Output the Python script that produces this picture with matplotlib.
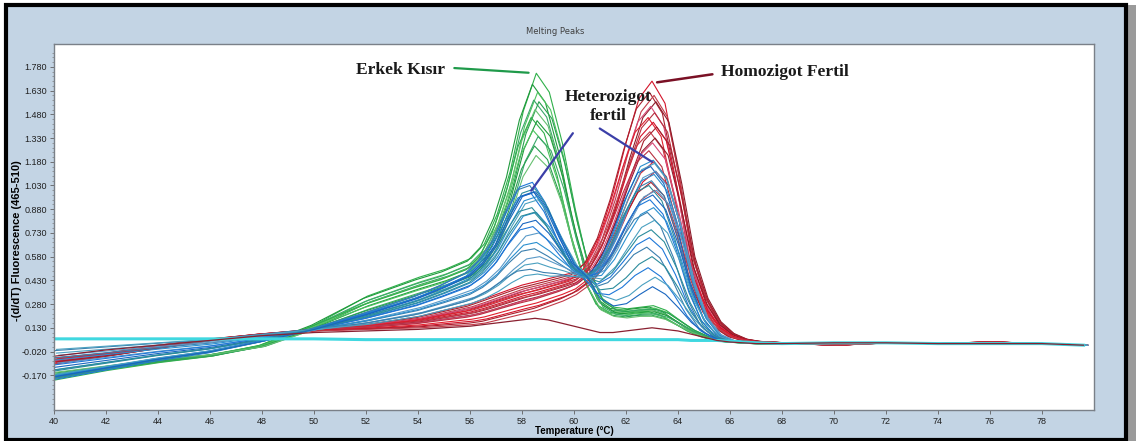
import numpy as np
import matplotlib
matplotlib.use("Agg")
import matplotlib.pyplot as plt
from matplotlib.patches import Rectangle

# ---- data ----
temps = np.array([40, 42, 44, 46, 48, 50, 52, 54, 55, 56, 56.5, 57, 57.5, 58, 58.5, 59, 59.5,
                  60, 60.5, 61, 61.5, 62, 62.5, 63, 63.5, 64, 64.5, 65, 65.5, 66, 66.5, 67,
                  68, 70, 72, 74, 76, 78, 79.6])
tail = [0.03, 0.035, 0.035, 0.03, 0.03, 0.03, 0.02]

# Erkek Kisir (green): tallest and shortest curve
green_hi = np.array([-0.20, -0.14, -0.09, -0.05, 0.02, 0.15, 0.33, 0.45, 0.50, 0.57, 0.66, 0.85, 1.12,
                     1.50, 1.74, 1.62, 1.30, 0.88, 0.52, 0.32, 0.26, 0.25, 0.26, 0.27, 0.24, 0.18,
                     0.12, 0.08, 0.05, 0.04, 0.035, 0.03] + tail)
green_lo = np.array([-0.15, -0.11, -0.07, -0.04, 0.01, 0.12, 0.22, 0.32, 0.37, 0.43, 0.50, 0.62, 0.82,
                     1.07, 1.20, 1.12, 0.90, 0.60, 0.38, 0.24, 0.20, 0.19, 0.20, 0.20, 0.18, 0.14,
                     0.10, 0.07, 0.05, 0.04, 0.035, 0.03] + tail)
green_peaks = [1.74, 1.67, 1.62, 1.57, 1.56, 1.51, 1.46, 1.44, 1.38, 1.34, 1.28, 1.22]
green_shift = [0.05, -0.10, 0.10, -0.05, 0.15, 0.00, -0.15, 0.08, -0.08, 0.12, -0.02, 0.04]

# Homozigot Fertil (red)
red_hi = np.array([-0.10, -0.05, 0.00, 0.05, 0.09, 0.12, 0.15, 0.20, 0.24, 0.28, 0.31, 0.34, 0.37,
                   0.40, 0.42, 0.44, 0.46, 0.48, 0.55, 0.72, 0.98, 1.30, 1.58, 1.69, 1.55, 1.12,
                   0.62, 0.34, 0.18, 0.10, 0.06, 0.045, 0.035, 0.02, 0.035, 0.03, 0.04, 0.03, 0.02])
red_lo = np.array([-0.06, -0.03, 0.02, 0.06, 0.09, 0.11, 0.12, 0.13, 0.14, 0.15, 0.16, 0.18, 0.20,
                   0.22, 0.24, 0.27, 0.30, 0.34, 0.40, 0.50, 0.64, 0.80, 0.94, 1.00, 0.92, 0.68,
                   0.40, 0.22, 0.12, 0.07, 0.05, 0.04, 0.035, 0.02, 0.035, 0.03, 0.04, 0.03, 0.02])
red_peaks = [1.69, 1.62, 1.60, 1.56, 1.53, 1.49, 1.46, 1.43, 1.40, 1.37, 1.33, 1.30, 1.25,
             1.18, 1.12, 1.05, 1.00]
red_shift = [0.00, -0.10, 0.08, 0.15, -0.05, 0.10, -0.15, 0.05, 0.18, -0.08, 0.12, 0.02,
             -0.12, 0.06, 0.14, -0.04, 0.09]

# Heterozigot fertil (blue): two peaks
blue_hi = np.array([-0.20, -0.14, -0.08, -0.03, 0.04, 0.12, 0.22, 0.33, 0.40, 0.48, 0.56, 0.68, 0.86,
                    1.02, 1.05, 0.92, 0.72, 0.54, 0.45, 0.55, 0.74, 0.97, 1.15, 1.19, 1.08, 0.80,
                    0.44, 0.20, 0.09, 0.05, 0.04, 0.035] + tail)
blue_lo = np.array([0.00, 0.02, 0.04, 0.06, 0.09, 0.12, 0.15, 0.20, 0.24, 0.28, 0.31, 0.35, 0.40,
                    0.44, 0.45, 0.44, 0.45, 0.45, 0.45, 0.32, 0.28, 0.30, 0.36, 0.41, 0.36, 0.27,
                    0.17, 0.10, 0.06, 0.045, 0.04, 0.035] + tail)
blue_left_peaks = [1.05, 0.86, 1.03, 0.54, 1.01, 0.99, 0.73, 0.98, 0.96, 0.63, 0.94, 0.89,
                   0.81, 0.58, 0.77, 0.67, 0.50, 0.47, 0.86, 0.99]
blue_right_peaks = [0.70, 1.19, 0.64, 1.17, 0.58, 1.15, 1.12, 0.51, 1.10, 1.06, 0.45, 1.03,
                    0.97, 1.00, 0.94, 0.89, 0.86, 0.81, 0.75, 0.39]
blue_shift = [-0.10, 0.05, -0.20, 0.10, 0.00, -0.05, 0.15, -0.15, 0.08, -0.02, 0.12, -0.12,
              0.03, 0.18, -0.08, 0.06, -0.18, 0.10, -0.03, 0.02]

# low dark-red curves and flat cyan (negative controls)
low_curve = np.array([-0.05, -0.01, 0.02, 0.05, 0.08, 0.10, 0.11, 0.12, 0.13, 0.14, 0.15, 0.16, 0.17,
                      0.18, 0.19, 0.18, 0.16, 0.14, 0.12, 0.10, 0.10, 0.11, 0.12, 0.13, 0.12, 0.11,
                      0.09, 0.07, 0.05, 0.04, 0.035, 0.03] + tail)
cyan_curve = np.array([0.06, 0.06, 0.06, 0.06, 0.06, 0.06, 0.055, 0.055, 0.055, 0.055, 0.055, 0.055,
                       0.055, 0.055, 0.055, 0.055, 0.055, 0.055, 0.055, 0.055, 0.055, 0.055, 0.055,
                       0.055, 0.055, 0.055, 0.05, 0.05, 0.05, 0.045, 0.04, 0.035] + tail)

y_ticks = [1.780, 1.630, 1.480, 1.330, 1.180, 1.030, 0.880, 0.730, 0.580, 0.430, 0.280, 0.130,
           -0.020, -0.170]
x_ticks = list(range(40, 80, 2))

green_cols = ["#2fb04a", "#1f9a3c", "#4cc25e", "#3aa86a", "#28a050", "#66c070"]
red_cols = ["#d4142a", "#a8202e", "#c23a48", "#8c1c2a", "#d84a78", "#b83040", "#e0202e"]
blue_cols = ["#1f78d8", "#2a8fcf", "#3a7fae", "#4aa0c0", "#2b8c9c", "#1966c0", "#5a9ac8"]


def blend(lo, hi, h):
    w = (h - lo.max()) / (hi.max() - lo.max())
    return lo + w * (hi - lo)


fig = plt.figure(figsize=(11.38, 4.41), dpi=100)
fig.patch.set_facecolor("white")
# shadow + framed light-blue panel
fig.patches.append(Rectangle((10 / 1138, 0), 1126 / 1138, 436 / 441, transform=fig.transFigure,
                             facecolor="#9a9a9a", edgecolor="none", zorder=-3))
fig.patches.append(Rectangle((6 / 1138, 1 / 441), 1120 / 1138, 435 / 441, transform=fig.transFigure,
                             facecolor="#c3d4e4", edgecolor="black", linewidth=3, zorder=-2))

ax = fig.add_axes([54 / 1138, 31 / 441, 1040 / 1138, 366 / 441])
ax.set_facecolor("white")

for i, h in enumerate(green_peaks):
    ax.plot(temps + green_shift[i], blend(green_lo, green_hi, h),
            color=green_cols[i % len(green_cols)], lw=0.8)

for i, h in enumerate(red_peaks):
    ax.plot(temps + red_shift[i], blend(red_lo, red_hi, h),
            color=red_cols[i % len(red_cols)], lw=0.8)

left_part = temps <= 60.5
for i, (hl, hr) in enumerate(zip(blue_left_peaks, blue_right_peaks)):
    wl = (hl - 0.45) / (1.05 - 0.45)
    wr = (hr - 0.41) / (1.19 - 0.41)
    w = np.where(left_part, wl, wr)
    ax.plot(temps + blue_shift[i], blue_lo + w * (blue_hi - blue_lo),
            color=blue_cols[i % len(blue_cols)], lw=0.8)

ax.plot(temps, cyan_curve, color="#40d8e0", lw=2.2)
ax.plot(temps, low_curve, color="#8a2030", lw=0.9)

ax.set_xlim(40, 80)
ax.set_ylim(-0.39, 1.925)
ax.set_xticks(x_ticks)
ax.set_yticks(y_ticks)
ax.set_yticks(np.arange(-0.35, 1.9, 0.03), minor=True)
ax.set_yticklabels([f"{v:.3f}" for v in y_ticks])

tick_font = ["Liberation Sans", "DejaVu Sans"]
for lab in ax.get_xticklabels() + ax.get_yticklabels():
    lab.set_family(tick_font)
    lab.set_fontsize(6.5)
    lab.set_color("#202020")
ax.tick_params(length=3, width=0.6, color="#606060", pad=2)
ax.tick_params(which="minor", length=1.5, width=0.5, color="#808080")
for s in ax.spines.values():
    s.set_color("#7a8088")
    s.set_linewidth(1)

ax.set_xlabel("Temperature (°C)", fontsize=7, fontweight="bold", family=tick_font, labelpad=0)
ax.set_ylabel("-(d/dT) Fluorescence (465-510)", fontsize=8, fontweight="bold", family=tick_font)
ax.yaxis.set_label_coords(-32 / 1040, 0.464)
fig.text(555 / 1138, 1 - 32 / 441, "Melting Peaks", fontsize=6, color="#404040",
         ha="center", va="center")

# annotations
serif = "Liberation Serif"
ax.text(51.6, 1.76, "Erkek Kısır", family=serif, fontweight="bold", fontsize=12.6,
        va="center", ha="left", color="#1a1a1a")
ax.annotate("", xy=(58.36, 1.742), xytext=(55.29, 1.774),
            arrowprops=dict(arrowstyle="-", color="#1f9a4a", lw=1.6))
ax.text(65.66, 1.75, "Homozigot Fertil", family=serif, fontweight="bold", fontsize=12.6,
        va="center", ha="left", color="#1a1a1a")
ax.annotate("", xy=(63.09, 1.68), xytext=(65.43, 1.736),
            arrowprops=dict(arrowstyle="-", color="#7a1025", lw=1.8))
ax.text(61.3, 1.53, "Heterozigot\nfertil", family=serif, fontweight="bold", fontsize=12.5,
        va="center", ha="center", color="#1a1a1a", linespacing=1.2)
ax.annotate("", xy=(58.29, 0.983), xytext=(60.02, 1.375),
            arrowprops=dict(arrowstyle="-", color="#3b3fa8", lw=1.6))
ax.annotate("", xy=(63.09, 1.17), xytext=(60.9, 1.40),
            arrowprops=dict(arrowstyle="-", color="#3b3fa8", lw=1.6))

fig.savefig("out.png", dpi=100)
